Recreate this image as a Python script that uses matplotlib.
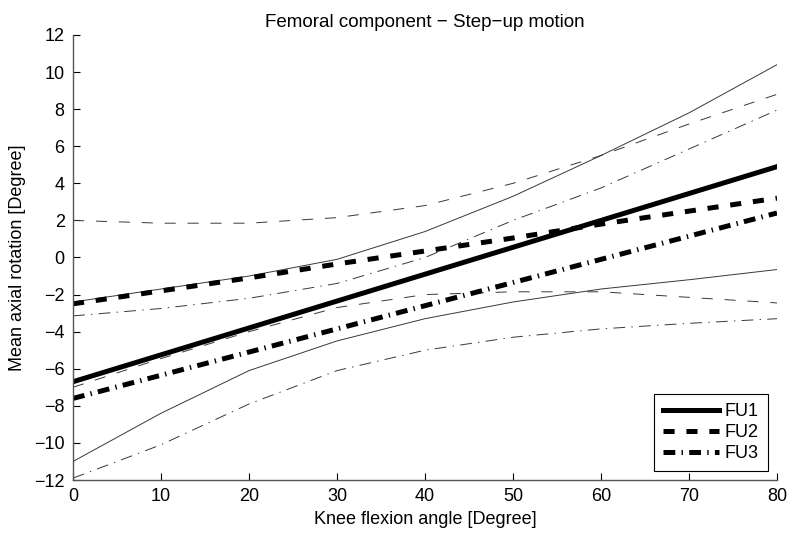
import matplotlib
matplotlib.use('Agg')
import matplotlib.pyplot as plt

plt.rcParams['font.family'] = ['Liberation Sans', 'DejaVu Sans']
plt.rcParams['font.size'] = 13
plt.rcParams['lines.scale_dashes'] = False

angle = [0, 10, 20, 30, 40, 50, 60, 70, 80]

fu1 = [-6.7, -5.25, -3.8, -2.35, -0.9, 0.55, 2.0, 3.45, 4.9]
fu1_hi = [-2.4, -1.7, -1.0, -0.1, 1.4, 3.3, 5.5, 7.8, 10.4]
fu1_lo = [-11.0, -8.4, -6.1, -4.5, -3.3, -2.4, -1.7, -1.2, -0.65]

fu2 = [-2.5, -1.8, -1.1, -0.35, 0.35, 1.05, 1.8, 2.5, 3.2]
fu2_hi = [2.0, 1.85, 1.85, 2.15, 2.8, 4.0, 5.5, 7.2, 8.8]
fu2_lo = [-7.0, -5.45, -4.0, -2.7, -2.0, -1.85, -1.85, -2.15, -2.45]

fu3 = [-7.6, -6.35, -5.1, -3.85, -2.6, -1.35, -0.1, 1.15, 2.4]
fu3_hi = [-3.15, -2.75, -2.2, -1.4, 0.0, 2.0, 3.75, 5.85, 7.95]
fu3_lo = [-11.9, -10.1, -7.9, -6.1, -5.0, -4.3, -3.85, -3.55, -3.3]

dash = (8, 8.5)
dashdot = (8.5, 4.5, 1, 4.5)

fig = plt.figure(figsize=(7.91, 5.35), dpi=100)
ax = fig.add_axes([0.0923, 0.1028, 0.89, 0.8318])

thin = dict(color='#383838', linewidth=0.7)
ax.plot(angle, fu1_hi, '-', **thin)
ax.plot(angle, fu1_lo, '-', **thin)
ax.plot(angle, fu2_hi, '--', dashes=dash, **thin)
ax.plot(angle, fu2_lo, '--', dashes=dash, **thin)
ax.plot(angle, fu3_hi, '-.', dashes=dashdot, **thin)
ax.plot(angle, fu3_lo, '-.', dashes=dashdot, **thin)

ax.plot(angle, fu1, '-', color='black', linewidth=3.6, label='FU1')
ax.plot(angle, fu2, '--', dashes=dash, color='black', linewidth=3.6, label='FU2')
ax.plot(angle, fu3, '-.', dashes=dashdot, color='black', linewidth=3.6, label='FU3')

ax.set_xlim(0, 80)
ax.set_ylim(-12, 12)
ax.set_xticks(range(0, 81, 10))
ax.set_yticks(range(-12, 13, 2))
ax.spines['top'].set_visible(False)
ax.spines['right'].set_visible(False)
for s in ['left', 'bottom']:
    ax.spines[s].set_color('#555555')
    ax.spines[s].set_linewidth(1.0)
ax.tick_params(direction='in', length=5, width=0.8, colors='black', pad=6)

ax.set_title('Femoral component \u2212 Step\u2212up motion', fontsize=13.5, pad=6)
ax.set_xlabel('Knee flexion angle [Degree]', labelpad=4)
ax.set_ylabel('Mean axial rotation [Degree]', labelpad=6)

leg = ax.legend(loc='lower right', fancybox=False, edgecolor='black',
                framealpha=1, handlelength=3.1, labelspacing=0.22,
                borderaxespad=0.5, handletextpad=0.35, borderpad=0.5)
leg.get_frame().set_linewidth(0.8)

fig.savefig('out.png', dpi=100)
